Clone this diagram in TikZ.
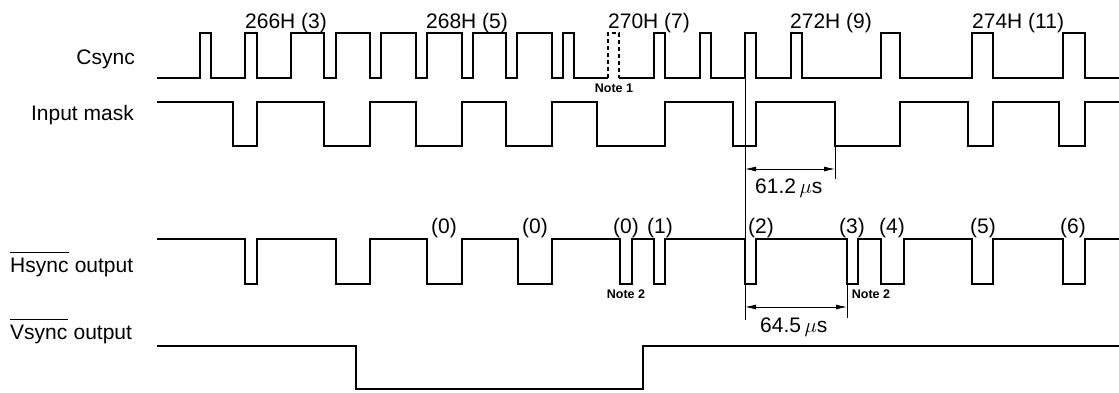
\documentclass[tikz,border=0pt]{standalone}
\usepackage{fontspec}
\setmainfont{Liberation Sans}
\usetikzlibrary{arrows.meta}
\begin{document}
\begin{tikzpicture}[x=1pt,y=-1pt,
  sig/.style={line width=1.8pt, line join=miter},
  dashsig/.style={line width=1.8pt, dash pattern=on 4pt off 3pt},
  dimline/.style={line width=0.8pt},
  dimarrow/.style={line width=0.8pt,{Latex[length=11pt,width=5pt]}-{Latex[length=11pt,width=5pt]}},
  lbl/.style={font=\fontsize{21}{25}\selectfont, inner sep=0pt},
  notelbl/.style={font=\fontsize{12.5}{14}\selectfont\bfseries, inner sep=0pt}]
\useasboundingbox (0,0) rectangle (1119,392);

% ---- row labels
\node[lbl, anchor=base east] (lcs) at (135,64) {Csync};
\node[lbl, anchor=base east] (lim) at (134,120) {Input mask};
\node[lbl, anchor=base west] (lhs) at (10,272) {Hsync};
\node[lbl, anchor=base west] (lho) at (lhs.base east) {\ output};
\draw[line width=0.8pt] ([yshift=5pt]lhs.north west) -- ([yshift=5pt]lhs.north east);
\node[lbl, anchor=base west] (lvs) at (10,339) {Vsync};
\node[lbl, anchor=base west] (lvo) at (lvs.base east) {\ output};
\draw[line width=0.8pt] ([yshift=5pt]lvs.north west) -- ([yshift=5pt]lvs.north east);

% ---- top line-number labels
\node[lbl, anchor=base west] (h266) at (245,28) {266H (3)};
\node[lbl, anchor=base west] (h268) at (426,28) {268H (5)};
\node[lbl, anchor=base west] (h270) at (608,28) {270H (7)};
\node[lbl, anchor=base west] (h272) at (790,28) {272H (9)};
\node[lbl, anchor=base west] (h274) at (972,28) {274H (11)};

% ---- Csync
\draw[sig] (157,78) foreach \a/\b in {200/211,245/257,291/324,336/370,381/416,427/462,473/506,517/552,563/574}
  { -- (\a,78) -- (\a,33) -- (\b,33) -- (\b,78) } -- (608,78);
\draw[dashsig] (608,78) -- (608,33) -- (619,33) -- (619,78);
\draw[sig] (619,78) foreach \a/\b in {654/665,700/711,745/756,791/802,881/900,972/993,1063/1085}
  { -- (\a,78) -- (\a,33) -- (\b,33) -- (\b,78) } -- (1119,78);
\node[notelbl, anchor=base] (n1) at (614,92) {Note 1};

% ---- Input mask
\draw[sig] (157,102) foreach \a/\b in {233/257,324/370,416/462,506/552,597/665,733/756,835/900,968/993,1059/1085}
  { -- (\a,102) -- (\a,146) -- (\b,146) -- (\b,102) } -- (1119,102);

% ---- Hsync output
\draw[sig] (157,239) foreach \a/\b in {245/257,336/370,427/462,518/552,620/632,654/665,745/756,847/858,881/904,972/993,1063/1085}
  { -- (\a,239) -- (\a,284) -- (\b,284) -- (\b,239) } -- (1119,239);
\foreach \x/\t [count=\i] in {444/0,535/0,626/0,660/1,761/2,852/3,892/4,983/5,1073/6}
  \node[lbl, anchor=base] (hc\i) at (\x,233) {(\t)};
\node[notelbl, anchor=base] (n2a) at (626,298) {Note 2};
\node[notelbl, anchor=base] (n2b) at (871,298) {Note 2};

% ---- Vsync output
\draw[sig] (157,346) -- (356,346) -- (356,389) -- (643,389) -- (643,346) -- (1119,346);

% ---- timing dimensions
\coordinate (vtop) at (745,78);
\coordinate (vbot) at (745,320);
\coordinate (t1top) at (835,146);
\coordinate (t1bot) at (835,179);
\coordinate (t2top) at (847,284);
\coordinate (t2bot) at (847,318);
\coordinate (a1l) at (745,169);
\coordinate (a1r) at (835,169);
\coordinate (a2l) at (745,307);
\coordinate (a2r) at (847,307);
\draw[dimline] (vtop) -- (vbot);
\draw[dimline] (t1top) -- (t1bot);
\draw[dimline] (t2top) -- (t2bot);
\draw[dimarrow] (a1l) -- (a1r);
\draw[dimarrow] (a2l) -- (a2r);
\node[lbl, anchor=base west] (d1) at (755,193) {61.2\,$\mu$s};
\node[lbl, anchor=base west] (d2) at (760,332) {64.5\,$\mu$s};
\end{tikzpicture}
\end{document}
